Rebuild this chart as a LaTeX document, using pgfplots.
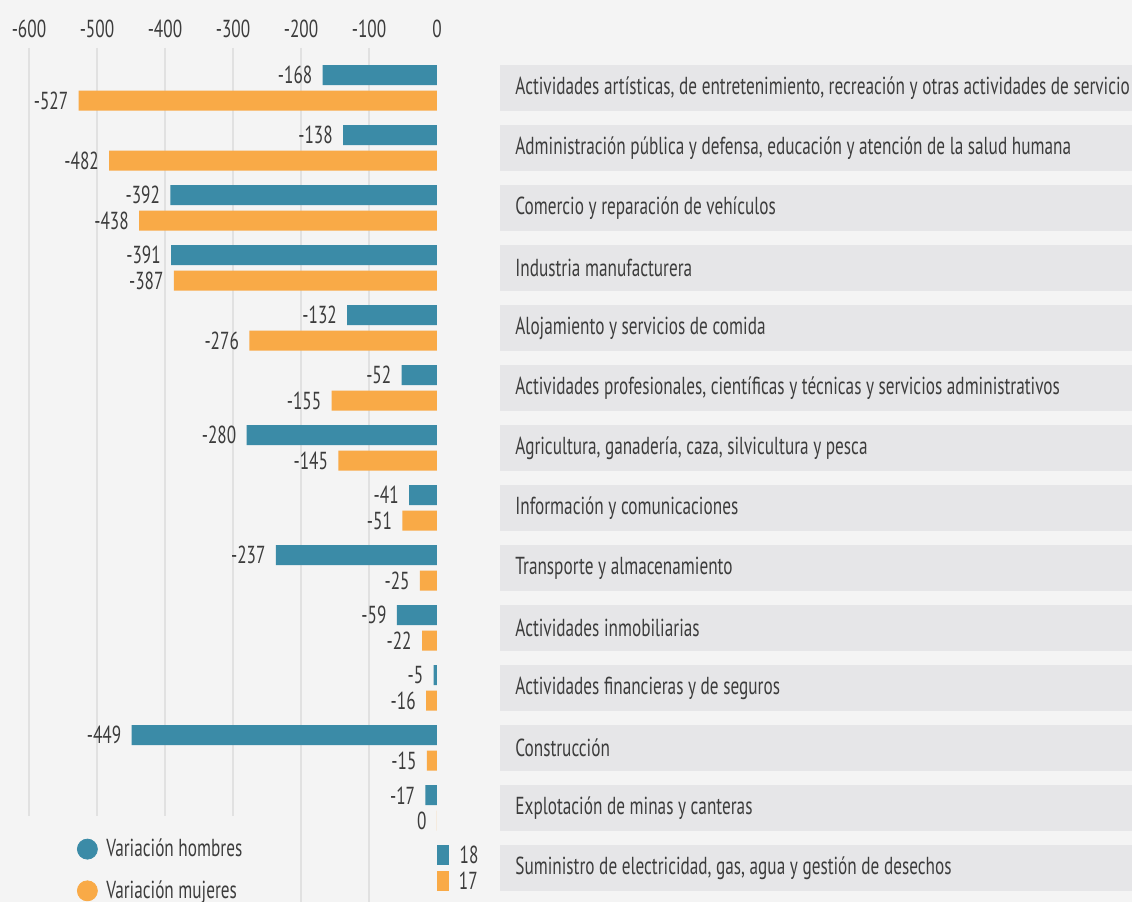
\documentclass[border=0pt]{standalone}
\usepackage{pgfplots}
\usepackage{pgfplotstable}
\pgfplotsset{compat=1.18}
\usepackage{fontspec}
\setmainfont{PT Sans}[FakeStretch=0.70]
\definecolor{hom}{HTML}{3B8BA7}
\definecolor{muj}{HTML}{F9AA47}
\definecolor{bgc}{HTML}{F4F4F4}
\definecolor{boxc}{HTML}{E6E6E8}
\definecolor{gridc}{HTML}{E1E1E1}
\definecolor{txt}{HTML}{3C3C3C}
\newcommand\myfont{\fontsize{12.3}{14}\selectfont}

\pgfplotstableread{
i h m
0 -168 -527
1 -138 -482
2 -392 -438
3 -391 -387
4 -132 -276
5 -52 -155
6 -280 -145
7 -41 -51
8 -237 -25
9 -59 -22
10 -5 -16
11 -449 -15
12 -17 0
}\negdata
\pgfplotstableread{
i h m
13 18 17
}\posdata

\begin{document}
\begin{tikzpicture}[font=\myfont, text=txt]
\begin{axis}[
  name=ax,
  scale only axis,
  width=566pt, height=451pt,
  xmin=-642.6, xmax=1022.06,
  ymin=-13.5667, ymax=1.4667,
  axis background/.style={fill=bgc},
  axis line style={draw=none},
  major tick length=0pt,
  xtick={-600,-500,-400,-300,-200,-100,0},
  xticklabels={-600,-500,-400,-300,-200,-100,0},
  xticklabel pos=upper,
  xticklabel style={anchor=base, yshift=-18.65pt},
  ytick={0,-1,...,-13},
  yticklabels={
    {Actividades artísticas, de entretenimiento, recreación y otras actividades de servicio},
    {Administración pública y defensa, educación y atención de la salud humana},
    {Comercio y reparación de vehículos},
    {Industria manufacturera},
    {Alojamiento y servicios de comida},
    {Actividades profesionales, científicas y técnicas y servicios administrativos},
    {Agricultura, ganadería, caza, silvicultura y pesca},
    {Información y comunicaciones},
    {Transporte y almacenamiento},
    {Actividades inmobiliarias},
    {Actividades financieras y de seguros},
    {Construcción},
    {Explotación de minas y canteras},
    {Suministro de electricidad, gas, agua y gestión de desechos}},
  yticklabel pos=right,
  yticklabel style={anchor=west, xshift=-316pt, fill=boxc, text width=330pt, align=flush left,
    minimum height=22.8pt, inner xsep=7.5pt},
  clip=false,
  legend image code/.code={\draw[#1] plot coordinates {(0pt,0pt)};},
  legend style={draw=none, fill=none, at={(axis cs:-529.4,-13.033)}, anchor=west,
    inner sep=0pt, row sep=6.5pt, column sep=2.5pt},
  legend cell align=left,
  barh/.style={xbar, draw=none, bar width=0.3333, bar shift=0pt,
    point meta=explicit symbolic, nodes near coords, forget plot,
    every node near coord/.append style={inner xsep=5pt}},
]
\pgfplotsinvokeforeach{-600,-500,-400,-300}{
  \draw[gridc, line width=0.6pt] (axis cs:#1,0.6667) -- (axis cs:#1,-12.133);}
\pgfplotsinvokeforeach{-200,-100}{
  \draw[gridc, line width=0.6pt] (axis cs:#1,0.6667) -- (axis cs:#1,-13.5667);}

\addplot[barh, fill=hom, nodes near coords style={anchor=east}]
  table[x=h, y expr=-\thisrow{i}+0.2125, meta=h] {\negdata};
\addplot[barh, fill=muj, nodes near coords style={anchor=east}]
  table[x=m, y expr=-\thisrow{i}-0.2125, meta=m] {\negdata};
\addplot[barh, fill=hom, nodes near coords style={anchor=west}]
  table[x=h, y expr=-\thisrow{i}+0.2125, meta=h] {\posdata};
\addplot[barh, fill=muj, nodes near coords style={anchor=west}]
  table[x=m, y expr=-\thisrow{i}-0.2125, meta=m] {\posdata};

\addlegendimage{only marks, mark=*, mark size=5pt, color=hom}
\addlegendentry{Variación hombres}
\addlegendimage{only marks, mark=*, mark size=5pt, color=muj}
\addlegendentry{Variación mujeres}
\end{axis}
\pgfresetboundingbox
\path[use as bounding box] (ax.south west) rectangle (ax.north east);
\end{tikzpicture}
\end{document}
